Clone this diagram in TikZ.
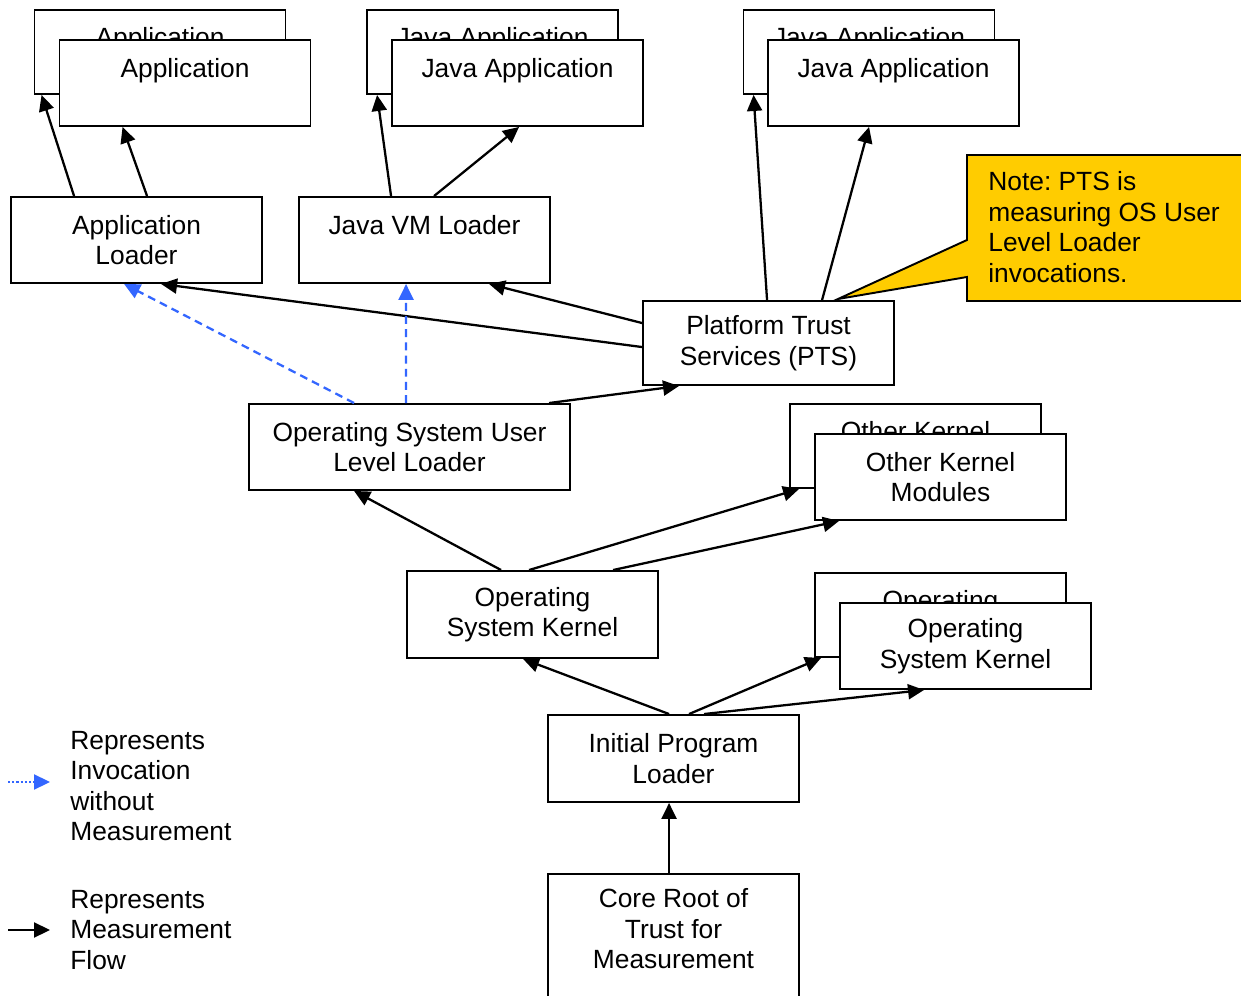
\documentclass[tikz,border=0pt]{standalone}
\usepackage{fontspec}
\setmainfont{Liberation Sans}
\usetikzlibrary{arrows.meta,calc}
\frenchspacing

\definecolor{noteyellow}{HTML}{FFCC00}
\definecolor{invblue}{HTML}{3366FF}

\tikzset{
  box/.style={draw=black, line width=1.1pt, fill=white, rectangle, inner sep=0pt,
    minimum width=5.02cm, minimum height=1.72cm, align=center},
  meas/.style={line width=1.3pt, -{Triangle[length=0.32cm,width=0.3cm]}},
  invoke/.style={invblue, line width=1.3pt, dash pattern=on 4.5pt off 3pt,
    -{Triangle[length=0.32cm,width=0.3cm]}},
}

\begin{document}
\begin{tikzpicture}[x=0.02cm, y=-0.02cm, font=\fontsize{15}{17.4}\selectfont]
        \useasboundingbox (0,0) rectangle (1241,996);

        % applications at the top
        \node[box, minimum height=1.68cm] (appB) at (160,52) {Application\\\mbox{}};
        \node[box] (appF) at (185,83) {Application\\\mbox{}};
        \node[box, minimum height=1.68cm] (javaBa) at (492.5,52) {Java Application\\\mbox{}};
        \node[box] (javaFa) at (517.5,83) {Java Application\\\mbox{}};
        \node[box, minimum height=1.68cm] (javaBb) at (869,52) {Java Application\\\mbox{}};
        \node[box] (javaFb) at (893.5,83) {Java Application\\\mbox{}};

        % loaders
        \node[box] (appldr) at (136.5,240) {Application\\Loader};
        \node[box] (jvmldr) at (424.5,240) {Java VM Loader\\\mbox{}};
        \node[box, minimum height=1.68cm] (pts) at (768.5,343) {Platform Trust\\Services (PTS)};
        \node[box, minimum width=6.42cm] (osul) at (409.5,447) {Operating System User\\Level Loader};

        % kernel level
        \node[box, minimum height=1.68cm] (okB) at (915.5,446) {Other Kernel\\\mbox{}};
        \node[box] (okF) at (940.5,477) {Other Kernel\\Modules};
        \node[box, minimum height=1.74cm] (osk) at (532.5,614.5) {Operating\\System Kernel};
        \node[box, minimum height=1.68cm] (oskB) at (940.5,615) {Operating\\\mbox{}};
        \node[box] (oskF) at (965.5,646) {Operating\\System Kernel};

        % boot
        \node[box, minimum height=1.74cm] (ipl) at (673.5,758.5) {Initial Program\\Loader};
        \node[box, minimum height=2.8cm] (crtm) at (673.5,944) {Core Root of\\Trust for\\Measurement\\\mbox{}};

        % note
        \draw[line width=1.1pt, fill=noteyellow] (967,155) -- (1250,155) -- (1250,301) -- (967,301)
          -- (967,277) -- (838,299) -- (967,240) -- cycle;
        \node[anchor=west, align=left, inner sep=0pt] (note) at (988,227)
          {Note: PTS is\\measuring OS User\\Level Loader\\invocations.};

        % measurement flow
        \draw[meas] ($(appldr.north west)+(64,0)$) -- ($(appB.south west)+(8,0)$);
        \draw[meas] ($(appldr.north west)+(137,0)$) -- ($(appF.south west)+(64,0)$);
        \draw[meas] ($(jvmldr.north west)+(93,0)$) -- ($(javaBa.south west)+(11,0)$);
        \draw[meas] ($(jvmldr.north west)+(136,0)$) -- ($(javaFa.south west)+(128,0)$);
        \draw[meas] ($(pts.north west)+(125,0)$) -- ($(javaBb.south west)+(11,0)$);
        \draw[meas] ($(pts.north west)+(180,0)$) -- ($(javaFb.south west)+(102,0)$);
        \draw[meas] ($(pts.north west)+(0,23)$) -- ($(jvmldr.south west)+(191,0)$);
        \draw[meas] ($(pts.north west)+(0,47)$) -- ($(appldr.south west)+(151,0)$);
        \draw[meas] ($(osul.north west)+(301,0)$) -- ($(pts.south west)+(37,0)$);
        \draw[meas] ($(osk.north west)+(95,0)$) -- ($(osul.south west)+(106,0)$);
        \draw[meas] ($(osk.north west)+(123,0)$) -- ($(okB.south west)+(10,0)$);
        \draw[meas] ($(osk.north west)+(207,0)$) -- ($(okF.south west)+(25,0)$);
        \draw[meas] ($(ipl.north west)+(122,0)$) -- ($(osk.south west)+(117,0)$);
        \draw[meas] ($(ipl.north west)+(142,0)$) -- ($(oskB.south west)+(7,0)$);
        \draw[meas] ($(ipl.north west)+(157,0)$) -- ($(oskF.south west)+(85,0)$);
        \draw[meas] ($(crtm.north west)+(122,0)$) -- ($(ipl.south west)+(122,0)$);

        % invocation without measurement
        \draw[invoke] ($(osul.north west)+(106,0)$) -- ($(appldr.south west)+(114,0)$);
        \draw[invoke] ($(osul.north west)+(158,0)$) -- ($(jvmldr.south west)+(108,0)$);

        % legend
        \coordinate (lgInvA) at (8,782);
        \coordinate (lgInvB) at (50,782);
        \coordinate (lgMeasA) at (8,930);
        \coordinate (lgMeasB) at (50,930);
        \draw[invblue, line width=1.3pt, dash pattern=on 1.2pt off 1.2pt,
          -{Triangle[length=0.32cm,width=0.3cm]}] (lgInvA) -- (lgInvB);
        \draw[meas] (lgMeasA) -- (lgMeasB);
        \node[anchor=west, align=left, inner sep=0pt] (lgInv) at (70,786)
          {Represents\\Invocation\\without\\Measurement};
        \node[anchor=west, align=left, inner sep=0pt] (lgMeas) at (70,930)
          {Represents\\Measurement\\Flow};
    \end{tikzpicture}
\end{document}
